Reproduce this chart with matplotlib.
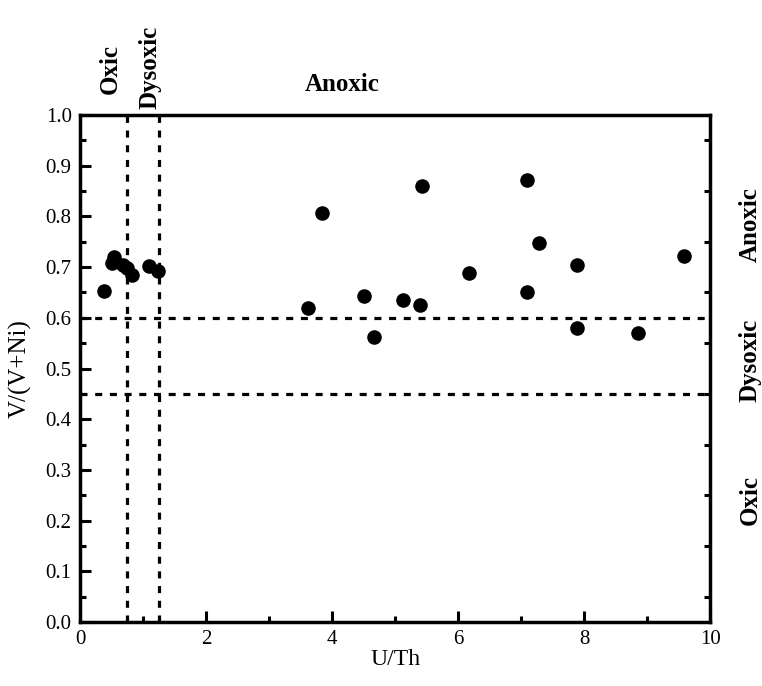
import matplotlib.pyplot as plt
from matplotlib.ticker import MultipleLocator

# U/Th vs V/(V+Ni) samples
u_th = [0.38, 0.50, 0.54, 0.69, 0.75, 0.82, 1.10, 1.23,
        3.61, 3.84, 4.50, 4.67, 5.12, 5.40, 5.43, 6.18,
        7.09, 7.09, 7.29, 7.88, 7.88, 8.86, 9.58]
v_vni = [0.653, 0.709, 0.720, 0.704, 0.698, 0.684, 0.702, 0.693,
         0.620, 0.806, 0.644, 0.562, 0.635, 0.625, 0.861, 0.688,
         0.872, 0.651, 0.747, 0.704, 0.580, 0.571, 0.722]

uth_bounds = [0.75, 1.25]
vni_bounds = [0.6, 0.45]

plt.rcParams['font.family'] = ['Liberation Serif', 'DejaVu Serif']

fig = plt.figure(figsize=(7.62, 6.86), dpi=100)
ax = fig.add_axes([0.105, 0.0933, 0.827, 0.739])

ax.scatter(u_th, v_vni, s=110, color='black', zorder=3, linewidths=0)

dash = (0, (2.2, 2.4))
for xb in uth_bounds:
    ax.axvline(xb, color='black', lw=2.3, linestyle=dash)
for yb in vni_bounds:
    ax.axhline(yb, color='black', lw=2.3, linestyle=dash)

ax.set_xlim(0, 10)
ax.set_ylim(0, 1.0)
ax.xaxis.set_major_locator(MultipleLocator(2))
ax.xaxis.set_minor_locator(MultipleLocator(1))
ax.yaxis.set_major_locator(MultipleLocator(0.1))
ax.yaxis.set_minor_locator(MultipleLocator(0.05))
ax.yaxis.set_major_formatter(lambda v, p: '%.1f' % v)

ax.tick_params(which='both', direction='in', width=2.2, top=False, right=False,
               labelsize=15, colors='black')
ax.tick_params(which='major', length=8)
ax.tick_params(which='minor', length=4)
ax.tick_params(axis='y', which='minor', right=True)
ax.tick_params(axis='both', pad=6)
for sp in ax.spines.values():
    sp.set_linewidth(2.5)

ax.set_xlabel('U/Th', fontsize=17, labelpad=0)
ax.set_ylabel('V/(V+Ni)', fontsize=18, labelpad=10)

bold = dict(fontsize=18, fontweight='bold', clip_on=False)
ax.text(0.48, 1.09, 'Oxic', rotation=90, ha='center', va='center', **bold)
ax.text(1.11, 1.095, 'Dysoxic', rotation=90, ha='center', va='center', **bold)
ax.text(4.16, 1.061, 'Anoxic', ha='center', va='center', **bold)

ax.text(10.63, 0.783, 'Anoxic', rotation=90, ha='center', va='center', **bold)
ax.text(10.63, 0.517, 'Dysoxic', rotation=90, ha='center', va='center', **bold)
ax.text(10.63, 0.241, 'Oxic', rotation=90, ha='center', va='center', **bold)

fig.savefig('out.png', dpi=100)
